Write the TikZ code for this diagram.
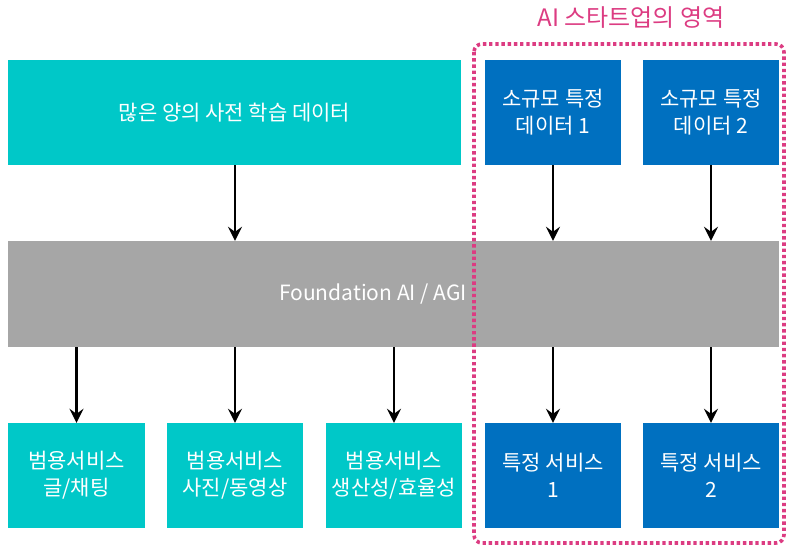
\documentclass[tikz,border=0pt]{standalone}
\usepackage{fontspec}
\setmainfont{Noto Sans CJK KR}
\usetikzlibrary{arrows.meta}
\definecolor{tealc}{RGB}{0,200,200}
\definecolor{bluec}{RGB}{0,112,192}
\definecolor{grayc}{RGB}{166,166,166}
\definecolor{pinkc}{RGB}{220,60,130}
\begin{document}
\begin{tikzpicture}[x=1pt,y=-1pt,
  box/.style={draw=none,inner sep=0pt,align=center,text=white,font=\fontsize{21}{27}\selectfont},
  tealbox/.style={box,fill=tealc},
  bluebox/.style={box,fill=bluec},
  arr/.style={line width=2.6pt,-{Stealth[length=14pt,width=14pt,inset=5pt]}}
]
\useasboundingbox (0,0) rectangle (787,548);
\node[tealbox,minimum width=453pt,minimum height=105pt] (data) at (234.5,112.5) {많은 양의 사전 학습 데이터};
\node[bluebox,minimum width=136pt,minimum height=105pt] (d1) at (553,112.5) {소규모 특정\\데이터 1};
\node[bluebox,minimum width=136pt,minimum height=105pt] (d2) at (711,112.5) {소규모 특정\\데이터 2};
\node[box,fill=grayc,minimum width=771pt,minimum height=106pt] (ai) at (393.5,294) {};
\node[box] (ailabel) at (373,294) {Foundation AI / AGI};
\node[tealbox,minimum width=137pt,minimum height=105pt] (s1) at (76.5,475.5) {범용서비스\\글/채팅};
\node[tealbox,minimum width=136pt,minimum height=105pt] (s2) at (235,475.5) {범용서비스\\사진/동영상};
\node[tealbox,minimum width=136pt,minimum height=105pt] (s3) at (394,475.5) {범용서비스\\생산성/효율성};
\node[bluebox,minimum width=136pt,minimum height=105pt] (s4) at (553,475.5) {특정 서비스\\1};
\node[bluebox,minimum width=136pt,minimum height=105pt] (s5) at (711,475.5) {특정 서비스\\2};
\draw[pinkc,line width=3.6pt,dash pattern=on 3.4pt off 2.8pt,rounded corners=8pt] (474,44) rectangle (784,543);
\node[text=pinkc,font=\fontsize{24}{28}\selectfont,inner sep=0pt] (title) at (631,18) {AI 스타트업의 영역};
\draw[arr] (data.south -| 235,0) -- (ai.north -| 235,0);
\draw[arr] (d1.south) -- (ai.north -| d1.south);
\draw[arr] (d2.south) -- (ai.north -| d2.south);
\draw[arr] (ai.south -| s1.north) -- (s1.north);
\draw[arr] (ai.south -| s2.north) -- (s2.north);
\draw[arr] (ai.south -| s3.north) -- (s3.north);
\draw[arr] (ai.south -| s4.north) -- (s4.north);
\draw[arr] (ai.south -| s5.north) -- (s5.north);
\end{tikzpicture}
\end{document}
